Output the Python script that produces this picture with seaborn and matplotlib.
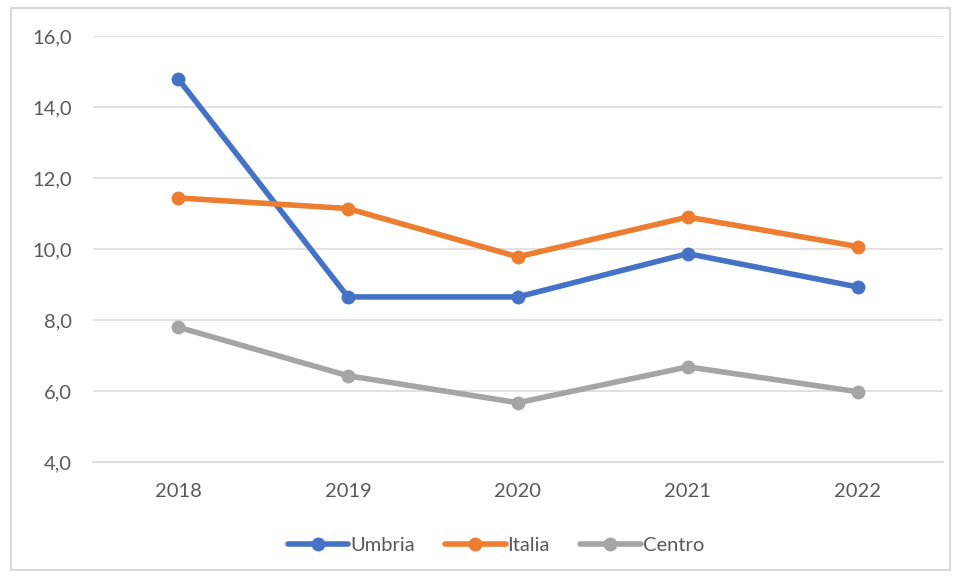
import pandas as pd
import seaborn as sns
import matplotlib.pyplot as plt
from matplotlib.patches import Rectangle
from matplotlib.ticker import FuncFormatter

# Values
years = ['2018', '2019', '2020', '2021', '2022']
umbria = [14.8, 8.65, 8.65, 9.87, 8.93]
italia = [11.44, 11.14, 9.78, 10.9, 10.07]
centro = [7.8, 6.43, 5.67, 6.68, 5.98]
series_names = ['Umbria', 'Italia', 'Centro']
colors = ['#4472C4', '#ED7D31', '#A5A5A5']

# Long format for seaborn
df = pd.DataFrame({
    'year': years * 3,
    'value': umbria + italia + centro,
    'serie': [s for s in series_names for _ in years],
})

sns.set_style('white')
plt.rcParams['font.family'] = ['Lato', 'DejaVu Sans']

fig = plt.figure(figsize=(9.59, 5.77), dpi=100)
ax = fig.add_axes([0.097, 0.1993, 0.886, 0.7383])

sns.lineplot(data=df, x='year', y='value', hue='serie', hue_order=series_names,
             palette=colors, marker='o', markersize=10, markeredgewidth=0,
             linewidth=4, ax=ax, sort=False)

ax.set_xlim(-0.5, 4.5)
ax.set_ylim(4, 16)
ax.set_yticks([4, 6, 8, 10, 12, 14, 16])
ax.yaxis.set_major_formatter(FuncFormatter(lambda v, p: f'{v:.1f}'.replace('.', ',')))
ax.grid(axis='y', color='#dcdcdc', linewidth=1.2)
ax.set_axisbelow(True)
for s in ax.spines.values():
    s.set_visible(False)
ax.spines['bottom'].set_visible(True)
ax.spines['bottom'].set_color('#d9d9d9')
ax.spines['bottom'].set_linewidth(1.2)
ax.tick_params(axis='y', length=0, pad=15, labelsize=14.5, labelcolor='#595959')
ax.tick_params(axis='x', length=0, pad=15, labelsize=14.5, labelcolor='#595959')
ax.set_xlabel('')
ax.set_ylabel('')

ax.legend_.remove()
handles, labels = ax.get_legend_handles_labels()
fig.legend(handles, labels, loc='center', bbox_to_anchor=(0.517, 0.054), ncol=3,
           frameon=False, fontsize=14.5, labelcolor='#595959', handlelength=3.0,
           handletextpad=0.1, columnspacing=1.5)

# light outer border like the original chart box
fig.patches.append(Rectangle((0.011, 0.012), 0.98, 0.974, transform=fig.transFigure,
                             fill=False, edgecolor='#d9d9d9', linewidth=1.5))

fig.savefig('out.png', dpi=100)
